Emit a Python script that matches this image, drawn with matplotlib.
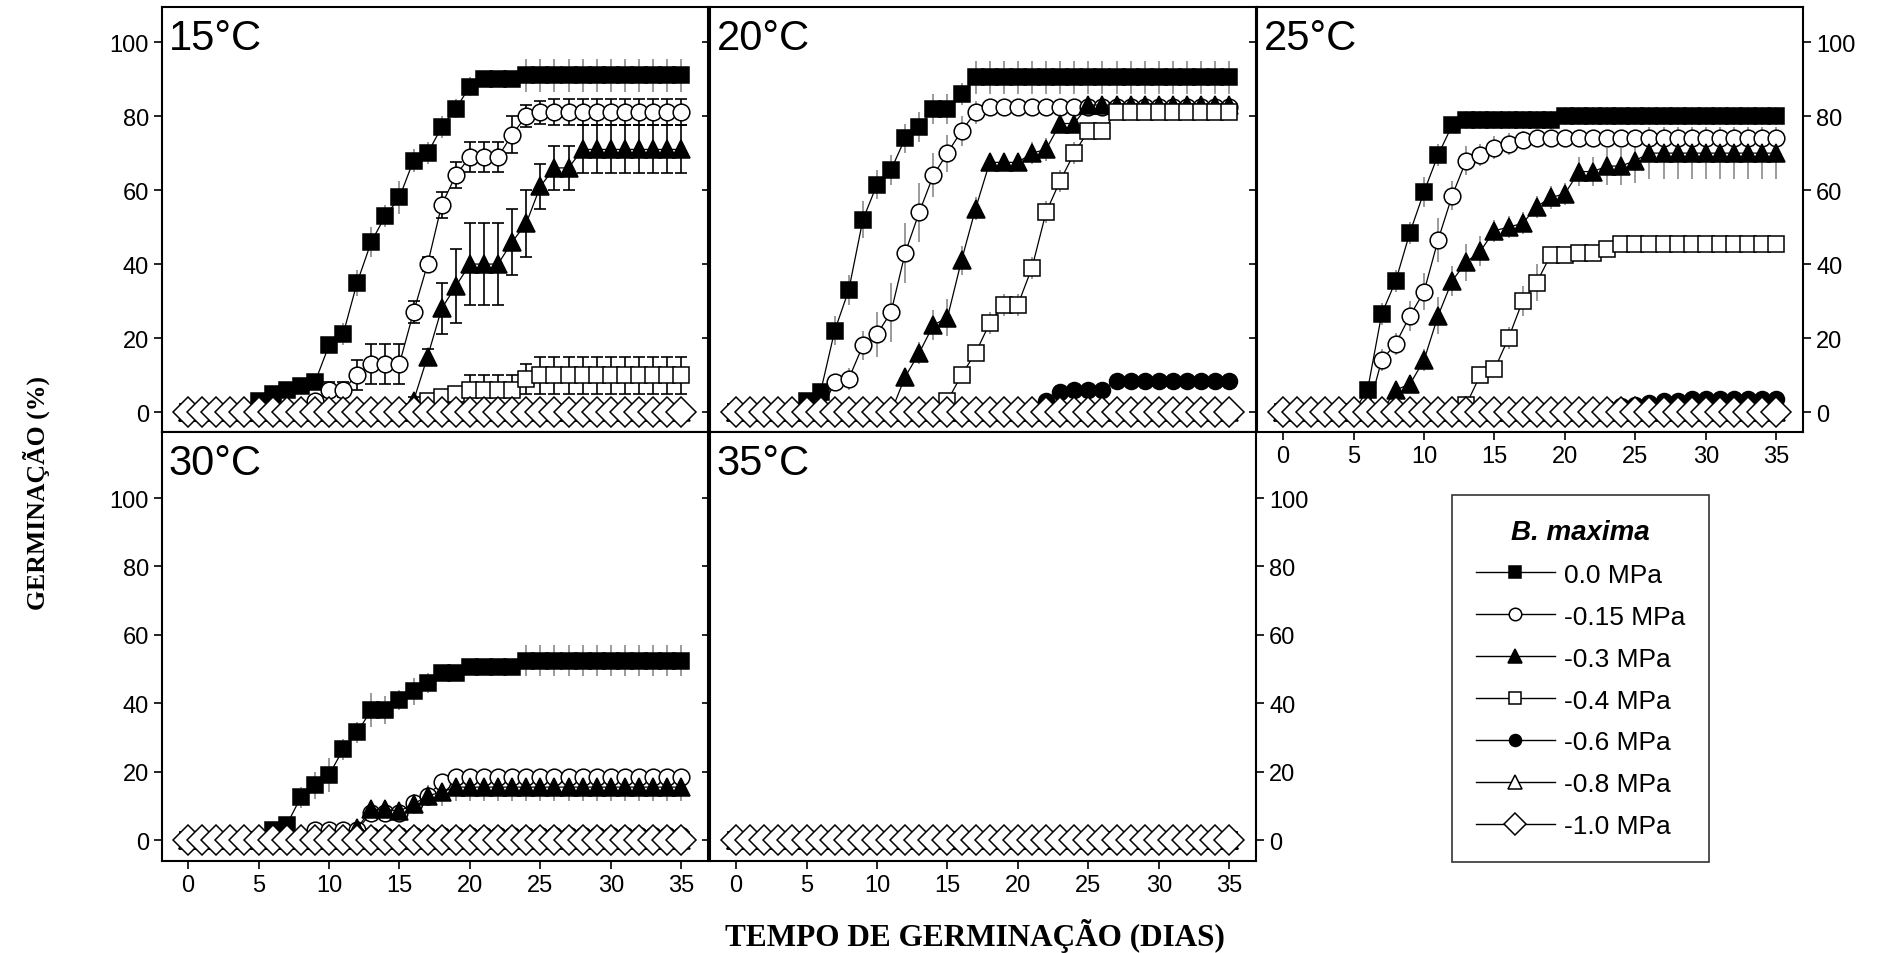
import matplotlib.pyplot as plt
from matplotlib.lines import Line2D

# germination (%) per day, one list per osmotic potential
days = list(range(36))
zero = [0] * 36

labels = ['0.0 MPa', '-0.15 MPa', '-0.3 MPa', '-0.4 MPa', '-0.6 MPa', '-0.8 MPa', '-1.0 MPa']
temps = ['15°C', '20°C', '25°C', '30°C', '35°C']

# 15 C
g15_00 = [0, 0, 0, 0, 0, 3, 5, 6, 7, 8, 18, 21, 35, 46, 53, 58, 68, 70, 77, 82,
          88, 90, 90, 90, 91, 91, 91, 91, 91, 91, 91, 91, 91, 91, 91, 91]
e15_00 = [0, 0, 0, 0, 0, 1, 1, 1, 1, 1, 2, 3, 3.5, 4, 3, 4.5, 3, 3, 3, 2.5,
          2.5, 2, 2, 2, 4.5, 4.5, 4.5, 4.5, 4.5, 4.5, 4.5, 4.5, 4.5, 4.5, 4.5, 4.5]
g15_015 = [0, 0, 0, 0, 0, 0, 0, 0, 0, 3, 6, 6, 10, 13, 13, 13, 27, 40, 56, 64,
           69, 69, 69, 75, 80, 81, 81, 81, 81, 81, 81, 81, 81, 81, 81, 81]
e15_015 = [0, 0, 0, 0, 0, 0, 0, 0, 0, 1, 2, 2, 4, 5.5, 5.5, 5.5, 3, 2, 3.5, 3.5,
           4, 4, 4, 5, 3, 3, 3.5, 3.5, 3.5, 3.5, 3.5, 3.5, 3.5, 3.5, 3.5, 3.5]
g15_03 = [0, 0, 0, 0, 0, 0, 0, 0, 0, 0, 0, 0, 0, 0, 0, 0, 3, 15, 28, 34,
          40, 40, 40, 46, 51, 61, 66, 66, 71, 71, 71, 71, 71, 71, 71, 71]
e15_03 = [0, 0, 0, 0, 0, 0, 0, 0, 0, 0, 0, 0, 0, 0, 0, 0, 1, 2, 7, 10,
          11, 11, 11, 9, 9, 6, 6, 6, 6.5, 6.5, 6.5, 6.5, 6.5, 6.5, 6.5, 6.5]
g15_04 = [0, 0, 0, 0, 0, 0, 0, 0, 0, 0, 0, 0, 0, 0, 0, 0, 0, 3, 4, 5,
          6, 6, 6, 6, 9, 10, 10, 10, 10, 10, 10, 10, 10, 10, 10, 10]
e15_04 = [0, 0, 0, 0, 0, 0, 0, 0, 0, 0, 0, 0, 0, 0, 0, 0, 0, 0.5, 1, 1.5,
          4, 4, 4, 4, 4, 5, 5, 5, 5, 5, 5, 5, 5, 5, 5, 5]

# 20 C
g20_00 = [0, 0, 0, 0, 0, 3, 5.5, 22, 33, 52, 61.5, 65.5, 74, 77, 82, 82, 86, 90.5, 90.5, 90.5,
          90.5, 90.5, 90.5, 90.5, 90.5, 90.5, 90.5, 90.5, 90.5, 90.5, 90.5, 90.5, 90.5, 90.5, 90.5, 90.5]
e20_00 = [0, 0, 0, 0, 0, 1, 2, 4, 4, 5, 4, 4, 4, 4, 4, 4, 3, 4.5, 4.5, 4.5,
          4.5, 4.5, 4.5, 4.5, 4.5, 4.5, 4.5, 4.5, 4.5, 4.5, 4.5, 4.5, 4.5, 4.5, 4.5, 4.5]
g20_015 = [0, 0, 0, 0, 0, 0, 0, 8, 9, 18, 21, 27, 43, 54, 64, 70, 76, 81, 82.5, 82.5,
           82.5, 82.5, 82.5, 82.5, 82.5, 82.5, 82.5, 82.5, 82.5, 82.5, 82.5, 82.5, 82.5, 82.5, 82.5, 82.5]
e20_015 = [0, 0, 0, 0, 0, 0, 0, 2, 3, 4, 6, 8, 8, 8, 6, 5, 4, 3, 2, 2,
           2, 2, 2, 2, 2, 2, 2, 2, 2, 2, 2, 2, 2, 2, 2, 2]
g20_03 = [0, 0, 0, 0, 0, 0, 0, 0, 0, 0, 0, 0, 9.5, 16, 23.5, 25.5, 41, 55, 67.5, 67.5,
          67.5, 70, 71, 78, 78, 83, 83, 83, 83, 83, 83, 83, 83, 83, 83, 83]
e20_03 = [0, 0, 0, 0, 0, 0, 0, 0, 0, 0, 0, 0, 2, 3, 4, 5, 4, 3, 2, 2,
          2, 3, 3, 2, 2, 1.5, 1.5, 1.5, 1.5, 1.5, 1.5, 1.5, 1.5, 1.5, 1.5, 1.5]
g20_04 = [0, 0, 0, 0, 0, 0, 0, 0, 0, 0, 0, 0, 0, 0, 0, 3, 10, 16, 24, 29,
          29, 39, 54, 62.5, 70, 76, 76, 81, 81, 81, 81, 81, 81, 81, 81, 81]
e20_04 = [0, 0, 0, 0, 0, 0, 0, 0, 0, 0, 0, 0, 0, 0, 0, 1, 2, 2, 3, 3,
          3, 3, 3, 3, 3, 2, 2, 1.5, 1.5, 1.5, 1.5, 1.5, 1.5, 1.5, 1.5, 1.5]
g20_06 = [0, 0, 0, 0, 0, 0, 0, 0, 0, 0, 0, 0, 0, 0, 0, 0, 0, 0, 0, 0,
          0, 0, 3, 5.5, 6, 6, 6, 8.5, 8.5, 8.5, 8.5, 8.5, 8.5, 8.5, 8.5, 8.5]
e20_06 = [0, 0, 0, 0, 0, 0, 0, 0, 0, 0, 0, 0, 0, 0, 0, 0, 0, 0, 0, 0,
          0, 0, 1, 1, 1, 1, 1, 1, 1, 1, 1, 1, 1, 1, 1, 1]

# 25 C
g25_00 = [0, 0, 0, 0, 0, 0, 6, 26.5, 35.5, 48.5, 59.5, 69.5, 77.5, 79, 79, 79, 79, 79, 79, 79,
          80, 80, 80, 80, 80, 80, 80, 80, 80, 80, 80, 80, 80, 80, 80, 80]
e25_00 = [0, 0, 0, 0, 0, 0, 2, 3, 3, 3, 4, 3, 2, 2.5, 2.5, 2.5, 2.5, 2.5, 2.5, 2.5,
          2.5, 2.5, 2.5, 2.5, 2.5, 2.5, 2.5, 2.5, 2.5, 2.5, 2.5, 2.5, 2.5, 2.5, 2.5, 2.5]
g25_015 = [0, 0, 0, 0, 0, 0, 0, 14, 18.5, 26, 32.5, 46.5, 58.5, 68, 69.5, 71.5, 72.5, 73.5, 74, 74,
           74, 74, 74, 74, 74, 74, 74, 74, 74, 74, 74, 74, 74, 74, 74, 74]
e25_015 = [0, 0, 0, 0, 0, 0, 0, 3, 3, 4, 5, 6, 4, 4, 3, 3, 3, 2.5, 2, 2,
           2, 2, 2, 2, 2, 2, 2, 2, 2, 2, 2, 2, 2, 2, 2, 2]
g25_03 = [0, 0, 0, 0, 0, 0, 0, 0, 6, 7.5, 14, 26, 35.5, 40.5, 43.5, 49, 50, 51, 55.5, 58,
          59, 65, 65, 66.5, 66.5, 68, 70, 70, 70, 70, 70, 70, 70, 70, 70, 70]
e25_03 = [0, 0, 0, 0, 0, 0, 0, 0, 1, 2, 3, 5, 4, 5, 4, 3, 3, 3, 3, 3,
          3, 4, 4, 5, 5, 6, 7, 7, 7, 7, 7, 7, 7, 7, 7, 7]
g25_04 = [0, 0, 0, 0, 0, 0, 0, 0, 0, 0, 0, 0, 0, 2, 10, 11.5, 20, 30, 35, 42.5,
          42.5, 43, 43, 44, 45.5, 45.5, 45.5, 45.5, 45.5, 45.5, 45.5, 45.5, 45.5, 45.5, 45.5, 45.5]
e25_04 = [0, 0, 0, 0, 0, 0, 0, 0, 0, 0, 0, 0, 0, 1, 2, 2, 3, 4, 5, 2,
          1.5, 1.5, 1.5, 1.5, 1.5, 1.5, 1.5, 1.5, 1.5, 1.5, 1.5, 1.5, 1.5, 1.5, 1.5, 1.5]
g25_06 = [0, 0, 0, 0, 0, 0, 0, 0, 0, 0, 0, 0, 0, 0, 0, 0, 0, 0, 0, 0,
          0, 0, 0, 1, 1.5, 2, 2.5, 3, 3, 3.5, 3.5, 3.5, 3.5, 3.5, 3.5, 3.5]

# 30 C
g30_00 = [0, 0, 0, 0, 0, 0, 3, 4.5, 12.5, 16, 19, 26.5, 31.5, 38, 38, 41, 43.5, 46, 49, 49,
          50.5, 50.5, 50.5, 50.5, 52.5, 52.5, 52.5, 52.5, 52.5, 52.5, 52.5, 52.5, 52.5, 52.5, 52.5, 52.5]
e30_00 = [0, 0, 0, 0, 0, 0, 1, 2, 3, 4, 5, 3, 3, 5, 4, 3, 4, 3, 2, 2,
          2, 2, 2, 2, 4.5, 4.5, 4.5, 4.5, 4.5, 4.5, 4.5, 4.5, 4.5, 4.5, 4.5, 4.5]
g30_015 = [0, 0, 0, 0, 0, 0, 0, 0, 0, 3, 3, 3, 3, 8, 8, 8, 11, 13, 17, 18.5,
           18.5, 18.5, 18.5, 18.5, 18.5, 18.5, 18.5, 18.5, 18.5, 18.5, 18.5, 18.5, 18.5, 18.5, 18.5, 18.5]
e30_015 = [0, 0, 0, 0, 0, 0, 0, 0, 0, 1, 1, 1, 1, 2, 2, 2, 2, 2, 2, 2,
           2, 2, 2, 2, 2, 2, 2, 2, 2, 2, 2, 2, 2, 2, 2, 2]
g30_03 = [0, 0, 0, 0, 0, 0, 0, 0, 0, 0, 0, 0, 3.5, 9, 9, 8.5, 10.5, 13, 14, 15.5,
          15.5, 15.5, 15.5, 15.5, 15.5, 15.5, 15.5, 15.5, 15.5, 15.5, 15.5, 15.5, 15.5, 15.5, 15.5, 15.5]
e30_03 = [0, 0, 0, 0, 0, 0, 0, 0, 0, 0, 0, 0, 1, 2, 2, 2, 3, 3, 4, 4,
          4, 4, 4, 4, 4, 4, 4, 4, 4, 4, 4, 4, 4, 4, 4, 4]
g30_06 = [0, 0, 0, 0, 0, 0, 0, 0, 0, 0, 0, 0, 1.5, 1.5, 1.5, 1.5, 1.5, 1.5, 1.5, 1.5,
          1.5, 1.5, 1.5, 1.5, 1.5, 1.5, 1.5, 1.5, 1.5, 1.5, 1.5, 1.5, 1.5, 1.5, 1.5, 1.5]

values = {
    '15°C': [g15_00, g15_015, g15_03, g15_04, zero, zero, zero],
    '20°C': [g20_00, g20_015, g20_03, g20_04, g20_06, zero, zero],
    '25°C': [g25_00, g25_015, g25_03, g25_04, g25_06, zero, zero],
    '30°C': [g30_00, g30_015, g30_03, zero, g30_06, zero, zero],
    '35°C': [zero, zero, zero, zero, zero, zero, zero],
}
errors = {
    '15°C': [e15_00, e15_015, e15_03, e15_04, None, None, None],
    '20°C': [e20_00, e20_015, e20_03, e20_04, e20_06, None, None],
    '25°C': [e25_00, e25_015, e25_03, e25_04, None, None, None],
    '30°C': [e30_00, e30_015, e30_03, None, None, None, None],
    '35°C': [None] * 7,
}

markers = ['s', 'o', '^', 's', 'o', '^', 'D']
faces = ['black', 'white', 'black', 'white', 'black', 'white', 'white']
msizes = [11.5, 12, 13, 11.5, 11.5, 13, 15]

plt.rcParams['font.family'] = ['Liberation Sans Narrow', 'Liberation Sans']

fig = plt.figure(figsize=(18.81, 9.54), dpi=100)
W, H = 1881, 954
lefts = [162, 710, 1257]
pw = 546
rows = [(8, 433), (433, 862)]

grid = {'15°C': (0, 0), '20°C': (0, 1), '25°C': (0, 2), '30°C': (1, 0), '35°C': (1, 1)}
ylims = [(-5.4, 109.5), (-6.1, 119.3)]

for t in temps:
    r, c = grid[t]
    top, bot = rows[r]
    ax = fig.add_axes([lefts[c] / W, 1 - bot / H, pw / W, (bot - top) / H])
    for i in range(7):
        yv = values[t][i]
        ye = errors[t][i]
        if ye is not None:
            if t == '15°C' and i > 0:
                ec, cs = 'black', 4
            else:
                ec, cs = '#8a8a8a', 0
            ax.errorbar(days, yv, yerr=ye, fmt='none', ecolor=ec, elinewidth=1.2,
                        capsize=cs, capthick=1.2, zorder=2 + i * 0.1)
        ax.plot(days, yv, color='black', lw=0.9, marker=markers[i], ms=msizes[i],
                mfc=faces[i], mec='black', mew=1.1, zorder=3 + i * 0.1)
    ax.set_xlim(-1.85, 36.9)
    ax.set_ylim(*ylims[r])
    ax.set_xticks(range(0, 36, 5))
    ax.set_yticks(range(0, 101, 20))
    ax.tick_params(direction='out', length=6, width=1.2, labelsize=17,
                   left=True, right=True, bottom=True, top=False,
                   labelleft=(c == 0), labelright=(c == 1 and r == 1) or c == 2,
                   labelbottom=(r == 1 or c == 2))
    for s in ax.spines.values():
        s.set_linewidth(1.5)
    ax.text(0.012, 0.975, t, transform=ax.transAxes, ha='left', va='top',
            fontsize=30, family='Liberation Sans')

# legend in the empty bottom-right cell
handles = [Line2D([], [], color='black', lw=1, marker=markers[i], ms=msizes[i] * 0.75,
                  mfc=faces[i], mec='black', mew=1.1) for i in range(7)]
leg = fig.legend(handles, labels, loc='upper left', bbox_to_anchor=(1452 / W, 1 - 496 / H),
                 borderaxespad=0, frameon=True, fancybox=False, edgecolor='black',
                 handlelength=3.0, handletextpad=0.35, labelspacing=0.68, borderpad=0.9,
                 title='B. maxima',
                 title_fontproperties={'style': 'italic', 'weight': 'bold', 'size': 20,
                                       'family': 'Liberation Sans'},
                 prop={'family': 'Liberation Sans', 'size': 19})
leg.get_frame().set_linewidth(1.2)

fig.text(36 / W, 1 - 493 / H, 'GERMINAÇÃO (%)', rotation=90, ha='center', va='center',
         fontsize=18.5, fontweight='bold', family='Liberation Serif')
fig.text(975 / W, 1 - 936 / H, 'TEMPO DE GERMINAÇÃO (DIAS)', ha='center', va='center',
         fontsize=22.5, fontweight='bold', family='Liberation Serif')

fig.savefig('out.png', dpi=100)
